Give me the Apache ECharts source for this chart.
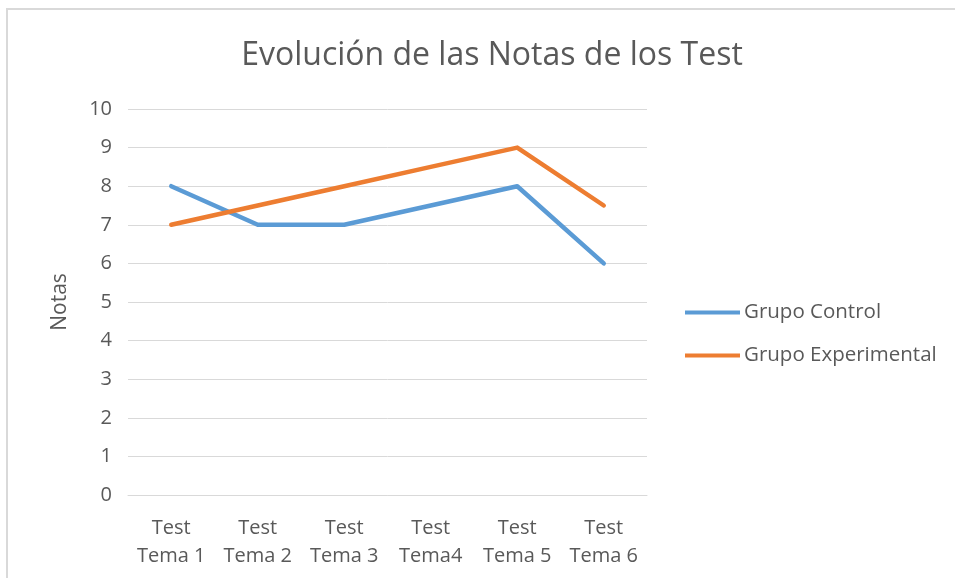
<!DOCTYPE html>
<html><head><meta charset="utf-8">
<script src="https://cdn.jsdelivr.net/npm/echarts@6/dist/echarts.min.js"></script>
<style>
html,body{margin:0;padding:0;background:#fff;}
#frame{position:absolute;left:6px;top:8px;width:960px;height:590px;border:2px solid #d9d9d9;box-sizing:border-box;}
#c{position:absolute;left:0;top:0;width:955px;height:578px;}
</style></head>
<body>
<div id="frame"></div>
<div id="c"></div>
<script>
const categories = ["Test\nTema 1","Test\nTema 2","Test\nTema 3","Test\nTema4","Test\nTema 5","Test\nTema 6"];
const grupoControl = [8, 7, 7, 7.5, 8, 6];
const grupoExperimental = [7, 7.5, 8, 8.5, 9, 7.5];
const yTicks = [0,1,2,3,4,5,6,7,8,9,10];

const font = "'Open Sans', 'Liberation Sans', sans-serif";
const chart = echarts.init(document.getElementById('c'), null, {renderer:'canvas'});
chart.setOption({
  animation:false,
  backgroundColor:'transparent',
  title:{text:'Evolución de las Notas de los Test', left:487, top:35, textAlign:'center',
    textStyle:{fontFamily:font, fontSize:32, fontWeight:'normal', color:'#595959'}},
  grid:{left:128, right:308, top:109, bottom:83},
  legend:{orient:'vertical', left:680, top:297, itemWidth:55, itemHeight:4, itemGap:22,
    icon:'rect',
    textStyle:{fontFamily:font, fontSize:20.5, color:'#595959', padding:[0,0,0,-1]},
    data:['Grupo Control','Grupo Experimental']},
  xAxis:{type:'category', data:categories, boundaryGap:true,
    axisLine:{show:true, lineStyle:{color:'#d9d9d9', width:1}},
    axisTick:{show:false},
    axisLabel:{interval:0, hideOverlap:false, fontFamily:font, fontSize:20, color:'#595959', lineHeight:28, margin:19}},
  yAxis:{type:'value', min:0, max:10, interval:1,
    name:'Notas', nameLocation:'middle', nameGap:57, nameRotate:90,
    nameTextStyle:{fontFamily:font, fontSize:21, color:'#595959'},
    axisLine:{show:false}, axisTick:{show:false},
    axisLabel:{fontFamily:font, fontSize:20, color:'#595959', margin:16,
      formatter:v=>yTicks.includes(v)?String(v):''},
    splitLine:{lineStyle:{color:'#d9d9d9', width:1}}},
  series:[
    {name:'Grupo Control', type:'line', data:grupoControl, symbol:'none',
      lineStyle:{color:'#5B9BD5', width:4.5, cap:'round', join:'round'}, itemStyle:{color:'#5B9BD5'}},
    {name:'Grupo Experimental', type:'line', data:grupoExperimental, symbol:'none',
      lineStyle:{color:'#ED7D31', width:4.5, cap:'round', join:'round'}, itemStyle:{color:'#ED7D31'}}
  ]
});
</script>
</body></html>
